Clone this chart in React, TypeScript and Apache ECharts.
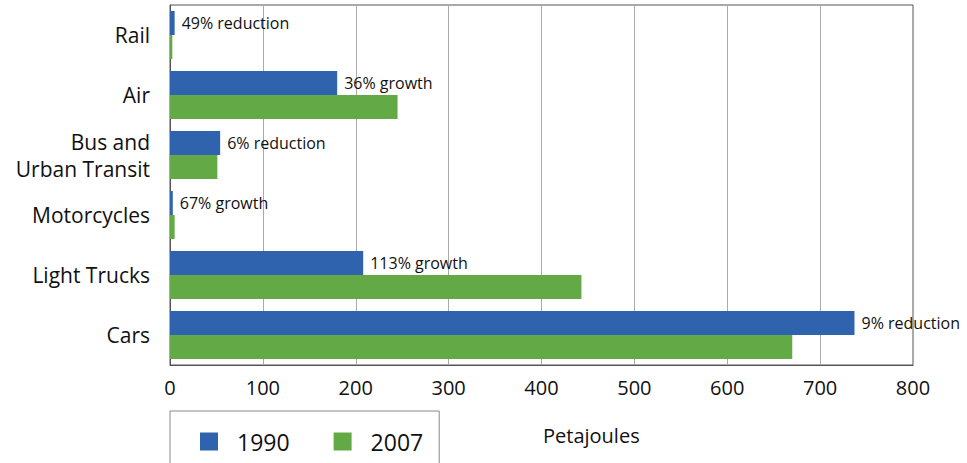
import React, { useEffect, useRef } from "react";
import * as echarts from "echarts";

const categories = ["Rail", "Air", "Bus and\nUrban Transit", "Motorcycles", "Light Trucks", "Cars"];
const values1990 = [5, 180, 54, 3, 208, 737];
const values2007 = [2.5, 245, 51, 5, 443, 670];
const changeNotes = ["49% reduction", "36% growth", "6% reduction", "67% growth", "113% growth", "9% reduction"];
const seriesNames = ["1990", "2007"];
const xTicks = { min: 0, max: 800, interval: 100 };
const axisTitle = "Petajoules";

const FONT = "'Open Sans', Lato, sans-serif";

export default function App() {
  const ref = useRef<HTMLDivElement>(null);
  useEffect(() => {
    if (!ref.current) return;
    const chart = echarts.init(ref.current, null, { renderer: "svg" });
    chart.setOption({
      animation: false,
      backgroundColor: "#ffffff",
      textStyle: { fontFamily: FONT },
      grid: {
        left: 170,
        right: 54,
        top: 5,
        bottom: 98,
        show: true,
        borderColor: "#555",
        borderWidth: 1,
        containLabel: false,
      },
      legend: {
        left: 170,
        top: 411,
        data: seriesNames,
        orient: "horizontal",
        icon: "rect",
        itemWidth: 18,
        itemHeight: 18,
        itemGap: 44,
        padding: [19, 16, 20, 30],
        borderColor: "#888",
        borderWidth: 1,
        textStyle: { fontSize: 23, color: "#111", fontFamily: FONT, padding: [0, 0, 0, 14] },
      },
      xAxis: {
        type: "value",
        min: xTicks.min,
        max: xTicks.max,
        interval: xTicks.interval,
        axisLine: { show: true, lineStyle: { color: "#555", width: 1 } },
        axisTick: { show: false },
        splitLine: { show: true, lineStyle: { color: "#aaa", width: 1 } },
        axisLabel: { fontSize: 20, color: "#111", margin: 12, fontFamily: FONT },
      },
      yAxis: {
        type: "category",
        data: categories,
        inverse: true,
        axisLine: { show: true, lineStyle: { color: "#555", width: 1 } },
        axisTick: { show: false },
        axisLabel: {
          fontSize: 21,
          color: "#111",
          margin: 20,
          lineHeight: 27,
          align: "right",
          fontFamily: FONT,
        },
      },
      series: [
        {
          name: seriesNames[0],
          type: "bar",
          data: values1990,
          barGap: "0%",
          barCategoryGap: "20%",
          itemStyle: { color: "#2f63ad" },
          label: {
            show: true,
            position: "right",
            distance: 7,
            fontSize: 16,
            color: "#111",
            fontFamily: FONT,
            formatter: (p: any) => changeNotes[p.dataIndex],
          },
        },
        {
          name: seriesNames[1],
          type: "bar",
          data: values2007,
          barGap: "0%",
          barCategoryGap: "20%",
          itemStyle: { color: "#63aa47" },
        },
      ],
      graphic: [
        {
          type: "text",
          left: 543,
          top: 425,
          style: { text: axisTitle, fontSize: 20, fill: "#111", fontFamily: FONT },
        },
      ],
    });
    return () => chart.dispose();
  }, []);
  return <div ref={ref} style={{ width: 967, height: 463, position: "absolute", left: 0, top: 0 }} />;
}
